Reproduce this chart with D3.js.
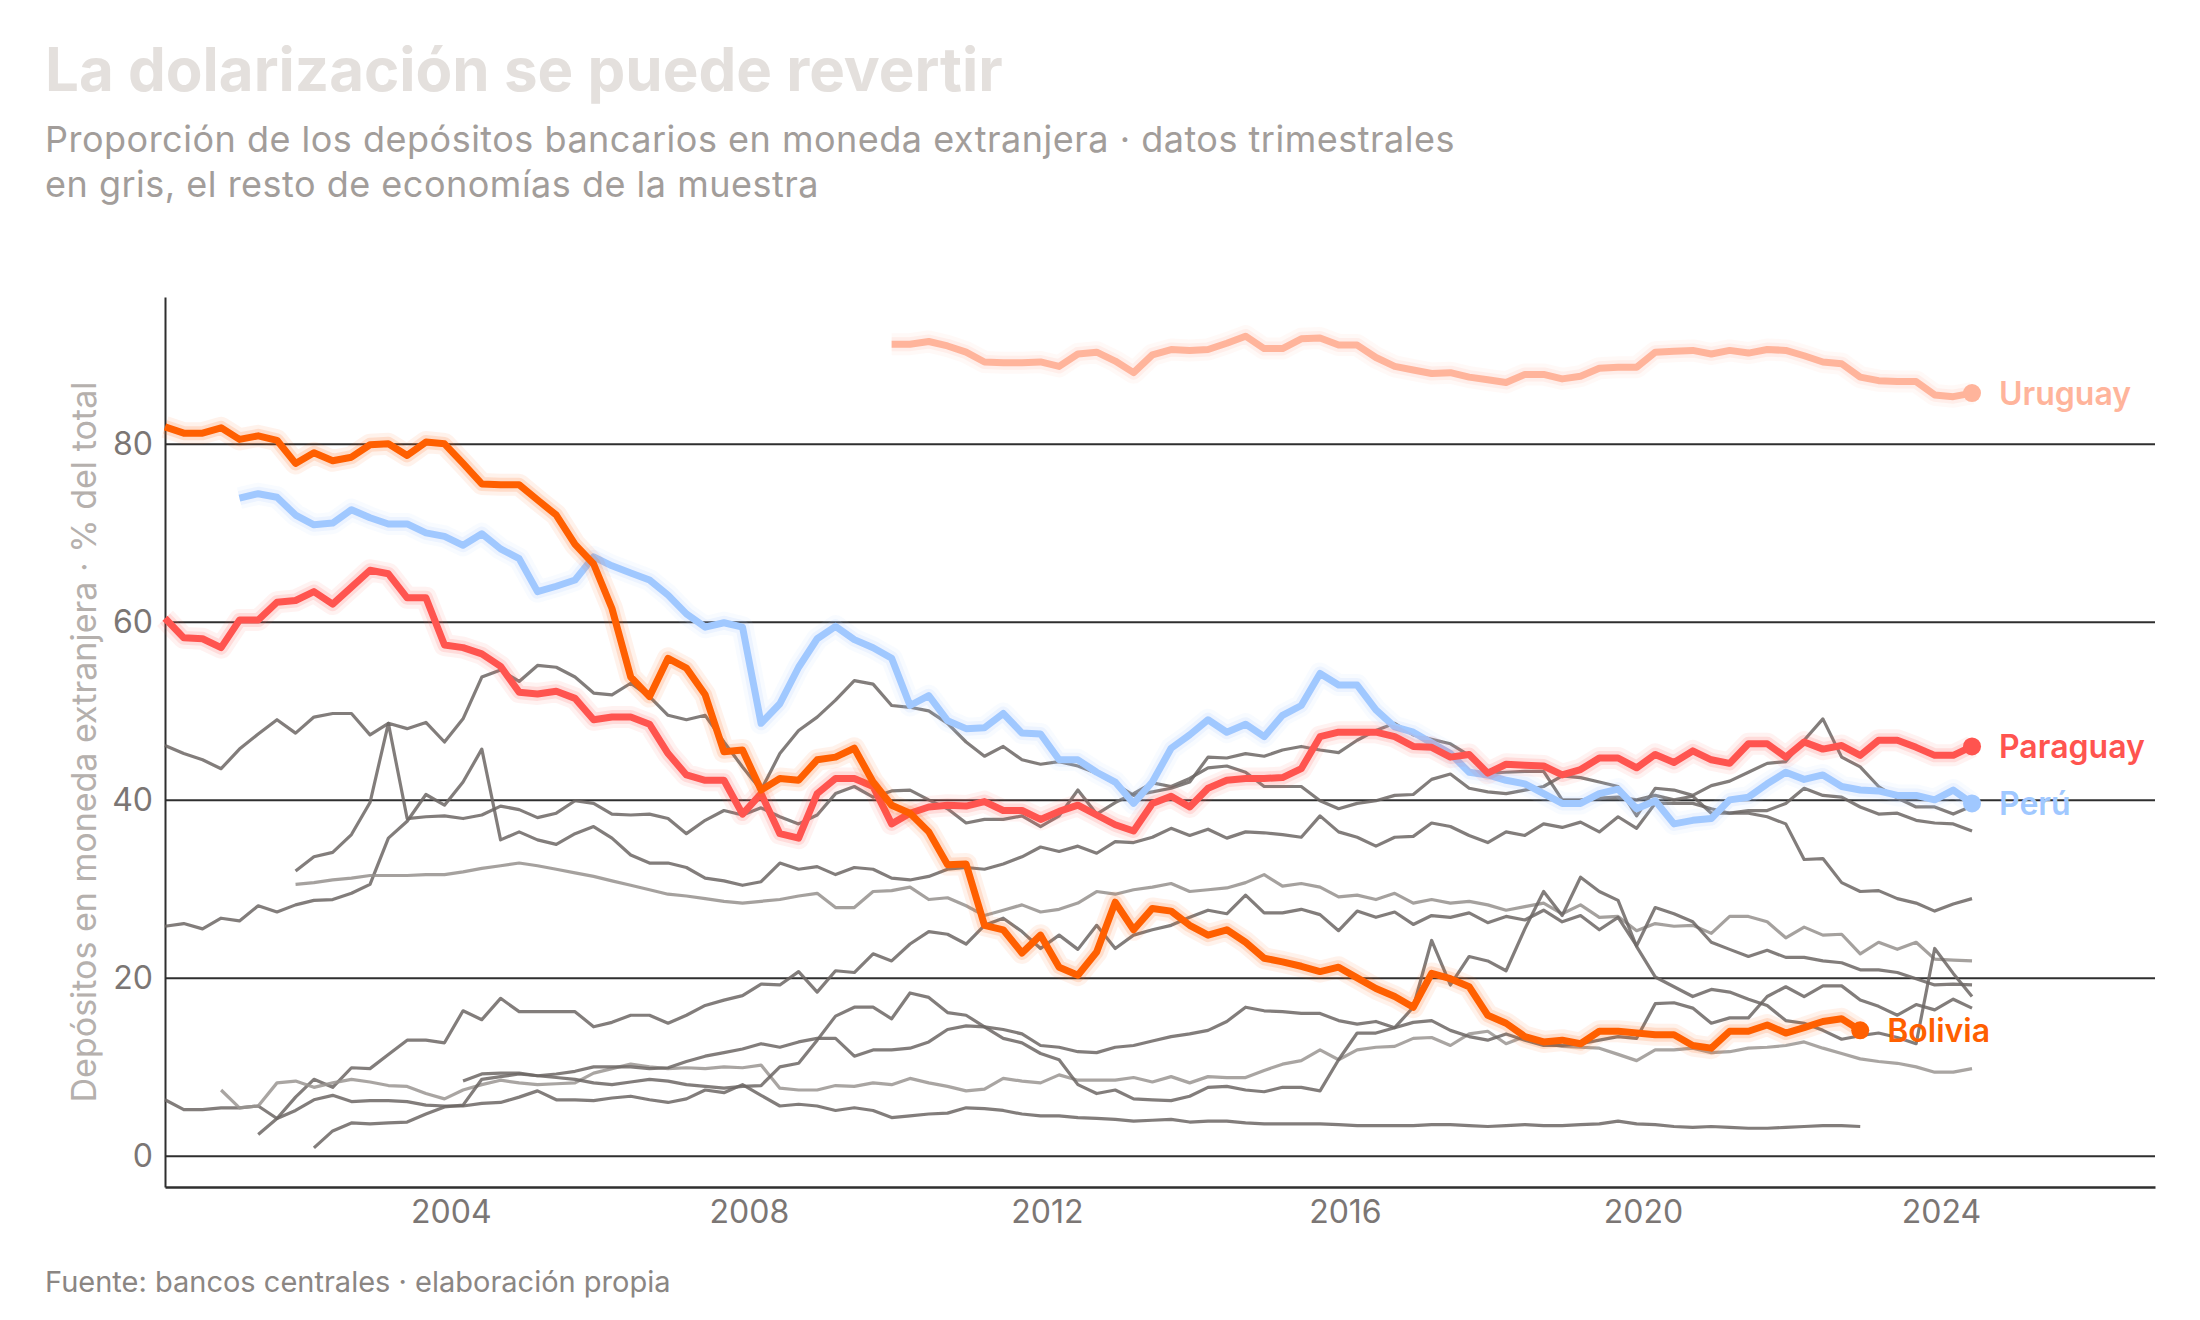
<!DOCTYPE html>
<html>
<head>
<meta charset="utf-8">
<script src="https://cdn.jsdelivr.net/npm/d3@7"></script>
<style>
  body { margin: 0; background: #fff; }
  svg { display: block; font-family: Inter, "Noto Sans", sans-serif; }
</style>
</head>
<body>
<div id="chart"></div>
<script>
// quarterly series, index 0 = 2000 Q1
const bolivia = [81.9,81.2,81.2,81.8,80.5,80.9,80.4,77.8,79.0,78.1,78.5,79.9,80.0,78.7,80.2,80.0,77.8,75.5,75.4,75.4,
  73.7,72.0,68.7,66.5,61.5,53.8,51.6,55.9,54.8,51.8,45.4,45.6,41.1,42.4,42.2,44.5,44.8,45.8,42.0,39.4,
  38.5,36.4,32.7,32.8,25.9,25.4,22.8,24.8,21.2,20.3,22.9,28.5,25.4,27.8,27.5,25.9,24.8,25.4,24.0,22.2,
  21.8,21.3,20.7,21.2,20.0,18.8,17.9,16.7,20.5,19.9,19.0,15.8,14.9,13.4,12.8,13.0,12.6,14.0,14.0,13.8,
  13.6,13.6,12.4,12.1,14.0,14.0,14.7,13.8,14.4,15.1,15.4,14.1];
const paraguay = [60.4,58.2,58.1,57.1,60.2,60.2,62.2,62.4,63.4,62.0,63.9,65.8,65.4,62.7,62.7,57.4,57.1,56.4,55.0,52.1,
  51.9,52.2,51.4,49.0,49.3,49.3,48.5,45.2,42.8,42.2,42.2,38.4,40.7,36.2,35.7,40.7,42.4,42.4,41.5,37.3,
  38.5,39.2,39.4,39.3,39.8,38.8,38.8,37.8,38.7,39.4,38.3,37.2,36.5,39.6,40.4,39.2,41.3,42.2,42.4,42.4,
  42.5,43.5,47.1,47.6,47.6,47.6,47.1,46.0,45.9,44.8,45.1,43.0,44.0,43.9,43.8,42.8,43.4,44.7,44.7,43.6,
  45.1,44.2,45.5,44.5,44.1,46.3,46.3,44.8,46.5,45.7,46.1,45.0,46.7,46.7,45.9,45.0,45.0,46.0];
const peru = [73.9,74.4,74.0,72.0,70.9,71.1,72.6,71.7,71.0,71.0,70.0,69.6,68.6,69.9,68.2,67.1,
  63.4,64.0,64.7,67.3,66.3,65.5,64.7,63.0,60.9,59.4,59.9,59.4,48.6,50.8,54.9,58.1,59.5,58.0,57.1,55.9,
  50.6,51.7,48.9,48.0,48.1,49.7,47.5,47.4,44.5,44.5,43.1,42.0,39.6,42.0,45.8,47.3,49.0,47.6,48.5,47.1,
  49.5,50.6,54.2,52.9,52.9,50.1,48.2,47.6,46.4,45.2,43.1,42.8,42.2,41.8,40.7,39.6,39.6,40.7,41.2,39.0,
  39.9,37.3,37.7,37.9,40.0,40.3,41.8,43.1,42.3,42.8,41.5,41.1,41.0,40.5,40.5,40.0,41.1,39.6];
const uruguay = [91.2,91.2,91.5,91.0,90.3,89.2,89.1,89.1,89.2,88.7,90.1,90.3,89.3,88.0,90.0,90.6,
  90.5,90.6,91.3,92.1,90.7,90.7,91.8,91.9,91.1,91.1,89.7,88.7,88.3,87.9,88.0,87.5,87.2,86.9,87.8,87.8,
  87.3,87.6,88.5,88.6,88.6,90.3,90.4,90.5,90.1,90.5,90.2,90.6,90.5,89.9,89.2,89.0,87.5,87.1,87.0,87.0,
  85.5,85.3,85.7];

// first quarter of each highlighted series
const boliviaStart = 0, paraguayStart = 0, peruStart = 4, uruguayStart = 39;

// the rest of the sample (grey)
const grayA = [46.1,45.2,44.5,43.5,45.7,47.4,49.0,47.5,49.3,49.7,49.7,47.3,48.6,48.0,48.7,46.5,49.1,53.8,54.6,53.3,
  55.1,54.9,53.8,52.0,51.8,53.1,51.6,49.5,49.0,49.5,46.5,43.7,41.1,45.2,47.8,49.3,51.2,53.4,53.0,50.6,
  50.4,50.0,48.6,46.5,44.9,46.0,44.5,44.0,44.3,43.8,43.0,41.8,40.5,40.9,41.3,42.0,44.8,44.7,45.2,44.9,
  45.6,46.0,45.6,45.3,46.7,47.8,48.6,47.3,46.8,46.3,45.0,43.0,43.1,43.2,43.2,40.0,40.0,40.2,40.3,40.0,
  40.5,40.0,40.4,38.5,38.5,38.8,38.8,39.6,41.3,40.5,40.3,39.2,38.4,38.5,37.7,37.4,37.3,36.5];
const grayB = [32.0,33.6,34.1,36.1,39.7,48.6,37.9,38.1,38.2,37.9,38.3,39.3,38.9,
  38.0,38.5,39.9,39.6,38.4,38.3,38.4,37.9,36.2,37.7,38.8,38.3,39.1,38.1,37.3,38.3,40.7,41.5,40.3,41.0,
  41.1,40.0,39.0,37.4,37.8,37.8,38.2,37.0,38.2,41.1,38.4,39.7,40.7,41.9,41.5,42.4,43.6,43.8,43.1,41.5,
  41.5,41.5,39.9,39.0,39.6,39.9,40.5,40.6,42.3,42.9,41.3,40.9,40.7,41.1,41.5,42.7,42.5,42.0,41.5,38.2,
  41.3,41.1,40.5,41.6,42.1,43.1,44.1,44.3,46.7,49.1,44.8,43.7,41.5,40.2,39.2,39.2,38.4,39.3];
const grayC = [25.8,26.1,25.5,26.7,26.4,28.1,27.4,28.2,28.7,28.8,29.5,30.5,35.7,37.6,40.6,39.4,42.0,45.7,35.5,36.4,
  35.5,35.0,36.2,37.0,35.7,33.8,32.9,32.9,32.4,31.2,30.9,30.4,30.8,32.9,32.2,32.5,31.6,32.4,32.2,31.2,
  31.0,31.4,32.2,32.4,32.2,32.8,33.6,34.7,34.2,34.8,34.0,35.3,35.2,35.8,36.8,36.0,36.7,35.7,36.4,36.3,
  36.1,35.8,38.2,36.4,35.8,34.8,35.8,35.9,37.4,37.0,36.0,35.2,36.4,36.0,37.3,36.9,37.5,36.4,38.1,36.8,
  39.6,39.6,39.6,39.0,38.5,38.5,38.1,37.3,33.3,33.4,30.7,29.7,29.8,28.9,28.4,27.5,28.3,28.9];
const grayD = [30.5,30.7,31.0,31.2,31.5,31.5,31.5,31.6,31.6,31.9,32.3,32.6,32.9,
  32.6,32.2,31.8,31.4,30.9,30.4,29.9,29.4,29.2,28.9,28.6,28.4,28.6,28.8,29.2,29.5,27.9,27.9,29.7,29.8,
  30.2,28.8,29.0,28.1,27.0,27.6,28.2,27.4,27.7,28.4,29.7,29.4,29.9,30.2,30.6,29.7,29.9,30.1,30.7,31.6,
  30.3,30.6,30.2,29.1,29.3,28.8,29.5,28.4,28.8,28.4,28.6,28.2,27.6,28.0,28.4,27.2,28.2,26.8,26.9,25.3,
  26.1,25.8,25.9,25.0,26.9,26.9,26.3,24.5,25.7,24.8,24.9,22.7,24.0,23.2,24.0,22.1,22.0,21.9];
const grayE = [2.4,4.2,6.6,8.6,7.7,9.9,9.8,11.4,13.0,13.0,12.7,16.3,15.3,17.7,16.2,
  16.2,16.2,16.2,14.5,15.0,15.8,15.8,14.9,15.8,16.9,17.5,18.0,19.3,19.2,20.7,18.4,20.8,20.6,22.7,21.9,
  23.8,25.2,24.9,23.8,25.9,26.7,25.2,23.3,24.8,23.2,25.9,23.3,24.8,25.4,25.9,26.8,27.6,27.2,29.3,27.3,
  27.3,27.7,27.1,25.3,27.5,26.8,27.4,26.0,27.0,26.8,27.3,26.2,26.9,26.5,27.6,26.3,27.0,25.4,26.8,23.6,
  27.9,27.2,26.3,24.0,23.2,22.4,23.1,22.3,22.3,21.9,21.7,20.9,20.9,20.6,19.9,19.2,19.3,19.2];
const grayF = [6.3,5.2,5.2,5.4,5.4,5.6,4.2,5.1,6.3,6.8,6.1,6.2,6.2,6.1,5.7,5.6,5.6,5.9,6.0,6.6,
  7.3,6.3,6.3,6.2,6.5,6.7,6.3,6.0,6.4,7.4,7.1,8.0,6.8,5.6,5.8,5.6,5.1,5.4,5.1,4.3,
  4.5,4.7,4.8,5.4,5.3,5.1,4.7,4.5,4.5,4.3,4.2,4.1,3.9,4.0,4.1,3.8,3.9,3.9,3.7,3.6,
  3.6,3.6,3.6,3.5,3.4,3.4,3.4,3.4,3.5,3.5,3.4,3.3,3.4,3.5,3.4,3.4,3.5,3.6,3.9,3.6,
  3.5,3.3,3.2,3.3,3.2,3.1,3.1,3.2,3.3,3.4,3.4,3.3];
const grayG = [7.4,5.4,5.6,8.2,8.4,7.7,8.2,8.6,8.3,7.9,7.8,7.0,6.4,7.4,8.0,8.5,8.2,
  8.0,8.1,8.2,9.3,9.8,10.3,10.0,9.8,9.9,9.8,10.0,9.9,10.2,7.6,7.4,7.4,7.9,7.8,8.2,8.0,
  8.7,8.2,7.8,7.3,7.5,8.7,8.4,8.2,9.1,8.5,8.5,8.5,8.8,8.3,8.9,8.2,8.9,8.8,8.8,9.6,
  10.3,10.7,11.9,10.8,11.9,12.2,12.3,13.2,13.3,12.4,13.7,14.0,12.6,13.4,12.7,12.3,12.2,12.1,11.4,10.7,
  11.9,11.9,12.1,11.6,11.7,12.1,12.2,12.4,12.8,12.1,11.5,10.9,10.6,10.4,10.0,9.4,9.4,9.8];
const grayH = [0.9,2.8,3.7,3.6,3.7,3.8,4.7,5.5,5.7,8.6,8.9,9.2,
  9.0,9.2,9.5,10.0,10.0,10.0,9.8,9.9,10.6,11.2,11.6,12.0,12.6,12.2,12.8,13.2,13.2,11.2,11.9,11.9,
  12.1,12.8,14.2,14.6,14.5,14.2,13.7,12.4,12.2,11.7,11.6,12.2,12.4,12.9,13.4,13.7,14.1,15.1,16.7,16.3,
  16.2,16.0,16.0,15.2,14.8,15.1,14.4,15.0,15.2,14.1,13.4,13.0,13.7,13.0,12.4,12.4,12.6,13.0,13.4,13.2,
  17.1,17.2,16.6,14.9,15.5,15.5,17.9,19.0,17.9,19.1,19.1,17.5,16.8,15.8,17.0,16.4,17.6,16.6];
const grayI = [8.4,9.2,9.3,9.3,
  9.0,8.8,8.6,8.2,8.0,8.3,8.6,8.4,8.0,7.8,7.6,7.8,7.9,10.0,10.4,13.0,15.7,16.7,16.7,15.4,
  18.3,17.8,16.1,15.8,14.5,13.2,12.7,11.5,10.8,8.0,7.0,7.4,6.4,6.3,6.2,6.7,7.7,7.8,7.4,7.2,
  7.7,7.7,7.3,10.8,13.8,13.8,14.4,16.7,24.2,19.2,22.4,21.9,20.8,25.5,29.7,27.0,31.3,29.7,28.7,23.5,
  20.1,19.0,17.9,18.7,18.4,17.6,16.9,15.2,14.9,14.1,13.1,13.5,13.8,13.3,12.6,23.3,20.5,17.9];
const grayStarts = [0, 7, 0, 7, 5, 0, 3, 8, 16];
const grayTones = ["#6c6664", "#6c6664", "#6c6664", "#95908d", "#6c6664", "#6c6664", "#9a9592", "#6c6664", "#6c6664"];

const yTicks = [0, 20, 40, 60, 80];
const xTickYears = [2004, 2008, 2012, 2016, 2020, 2024];

const title = "La dolarización se puede revertir";
const subtitle = ["Proporción de los depósitos bancarios en moneda extranjera · datos trimestrales",
  "en gris, el resto de economías de la muestra"];
const yLabel = "Depósitos en moneda extranjera · % del total";
const source = "Fuente: bancos centrales · elaboración propia";

// ---------------------------------------------------------------

const width = 2200, height = 1320;
const margin = {top: 297, right: 45, bottom: 133, left: 165};

const quarterDate = i => new Date(Date.UTC(2000 + Math.floor(i / 4), (i % 4) * 3 + 2, 1));
const toPoints = (start, values) => values.map((v, k) => ({date: quarterDate(start + k), value: v}));

const svg = d3.select("#chart").append("svg")
  .attr("width", width)
  .attr("height", height);

const x = d3.scaleUtc()
  .domain([quarterDate(0), new Date(Date.UTC(2026, 10, 15))])
  .range([margin.left, width - margin.right]);
const y = d3.scaleLinear()
  .domain([-3.5, 96.5])
  .range([height - margin.bottom, margin.top]);

// titles
svg.append("text").attr("x", 45).attr("y", 91)
  .attr("font-size", 60).attr("font-weight", 700).attr("fill", "#e4e0dd")
  .text(title);
svg.selectAll(".sub").data(subtitle).join("text")
  .attr("x", 45).attr("y", (d, i) => 152 + i * 45)
  .attr("font-size", 36).attr("letter-spacing", 0.5).attr("fill", "#a29d9a")
  .text(d => d);

// grid
svg.append("g")
  .attr("transform", `translate(${margin.left},0)`)
  .call(d3.axisLeft(y).tickValues(yTicks).tickSize(-(width - margin.left - margin.right)).tickFormat(""))
  .call(g => g.select(".domain").remove())
  .call(g => g.selectAll("line").attr("stroke", "#2f2f2f").attr("stroke-width", 2));

// y axis
svg.append("g")
  .attr("transform", `translate(${margin.left},0)`)
  .call(d3.axisLeft(y).tickValues(yTicks).tickSize(0).tickSizeOuter(0).tickPadding(12))
  .call(g => g.select(".domain").attr("stroke", "#2f2f2f").attr("stroke-width", 2))
  .call(g => g.selectAll("text").attr("font-size", 32).attr("fill", "#7b7674").attr("font-family", "Inter"));

// x axis
svg.append("g")
  .attr("transform", `translate(0,${height - margin.bottom})`)
  .call(d3.axisBottom(x)
    .tickValues(xTickYears.map(yr => new Date(Date.UTC(yr, 0, 1))))
    .tickFormat(d3.utcFormat("%Y"))
    .tickSize(0).tickSizeOuter(0).tickPadding(13))
  .call(g => g.select(".domain").attr("stroke", "#2f2f2f").attr("stroke-width", 2.5))
  .call(g => g.selectAll("text").attr("font-size", 32).attr("fill", "#7b7674").attr("font-family", "Inter"));

svg.append("text")
  .attr("transform", `translate(96,${(margin.top + height - margin.bottom) / 2}) rotate(-90)`)
  .attr("text-anchor", "middle")
  .attr("font-size", 34).attr("fill", "#b5b0ad")
  .text(yLabel);

svg.append("text").attr("x", 45).attr("y", 1292)
  .attr("font-size", 29).attr("fill", "#8b8683")
  .text(source);

const line = d3.line()
  .x(d => x(d.date))
  .y(d => y(d.value));

// grey lines
const grays = [grayA, grayB, grayC, grayD, grayE, grayF, grayG, grayH, grayI];
svg.append("g").selectAll("path")
  .data(grays.map((vals, k) => toPoints(grayStarts[k], vals)))
  .join("path")
  .attr("fill", "none")
  .attr("stroke", (d, k) => grayTones[k])
  .attr("stroke-opacity", 0.85)
  .attr("stroke-width", 3.2)
  .attr("stroke-linejoin", "round")
  .attr("d", line);

// highlighted countries
const highlights = [
  {name: "Uruguay", color: "#ffb49b", pts: toPoints(uruguayStart, uruguay)},
  {name: "Perú", color: "#a0c8ff", pts: toPoints(peruStart, peru)},
  {name: "Paraguay", color: "#ff544f", pts: toPoints(paraguayStart, paraguay)},
  {name: "Bolivia", color: "#ff5f00", pts: toPoints(boliviaStart, bolivia)}
];

const hg = svg.append("g").selectAll("g").data(highlights).join("g");
[[22, 0.08], [14, 0.14]].forEach(([w, o]) => {
  hg.append("path")
    .attr("fill", "none")
    .attr("stroke", d => d.color)
    .attr("stroke-opacity", o)
    .attr("stroke-width", w)
    .attr("stroke-linejoin", "round")
    .attr("d", d => line(d.pts));
});
hg.append("path")
  .attr("fill", "none")
  .attr("stroke", d => d.color)
  .attr("stroke-width", 7)
  .attr("stroke-linejoin", "round")
  .attr("d", d => line(d.pts));
hg.append("circle")
  .attr("cx", d => x(d.pts[d.pts.length - 1].date))
  .attr("cy", d => y(d.pts[d.pts.length - 1].value))
  .attr("r", 9)
  .attr("fill", d => d.color);
hg.append("text")
  .attr("x", d => x(d.pts[d.pts.length - 1].date) + 27)
  .attr("y", d => y(d.pts[d.pts.length - 1].value))
  .attr("dy", "0.36em")
  .attr("font-size", 32).attr("font-weight", 600)
  .attr("fill", d => d.color)
  .text(d => d.name);
</script>
</body>
</html>
